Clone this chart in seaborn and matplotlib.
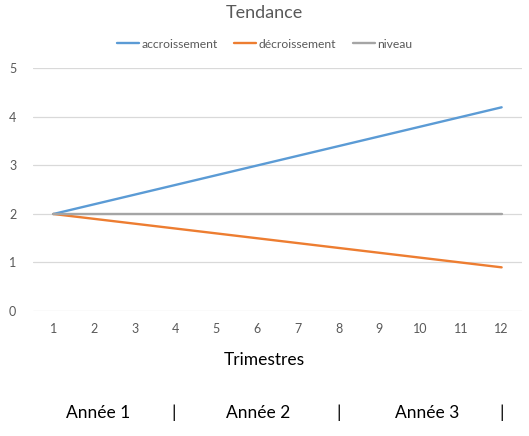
import pandas as pd
import matplotlib.pyplot as plt
import seaborn as sns

# données
trimestres = list(range(1, 13))
accroissement = [2.0, 2.2, 2.4, 2.6, 2.8, 3.0, 3.2, 3.4, 3.6, 3.8, 4.0, 4.2]
decroissement = [2.0, 1.9, 1.8, 1.7, 1.6, 1.5, 1.4, 1.3, 1.2, 1.1, 1.0, 0.9]
niveau = [2.0] * 12
series = ['accroissement', 'décroissement', 'niveau']
annees = ['Année 1', 'Année 2', 'Année 3']

df = pd.DataFrame({
    'Trimestre': trimestres * 3,
    'Valeur': accroissement + decroissement + niveau,
    'Série': [s for s in series for _ in trimestres],
})

sns.set_theme(style="white")
plt.rcParams['font.family'] = ['Lato', 'DejaVu Sans']

gris = '#595959'
couleurs = ['#5B9BD5', '#ED7D31', '#A5A5A5']

fig = plt.figure(figsize=(5.29, 4.36), dpi=100)
ax = fig.add_axes([0.0624, 0.2867, 0.9244, 0.5562])

sns.lineplot(data=df, x='Trimestre', y='Valeur', hue='Série', hue_order=series,
             palette=couleurs, linewidth=1.7, ax=ax, legend=False)

ax.set_xlim(0.5, 12.5)
ax.set_ylim(0, 5)
ax.set_xticks(trimestres)
ax.set_yticks(range(0, 6))
ax.grid(axis='y', color='#D9D9D9', linewidth=0.9)
ax.set_axisbelow(True)
for s in ax.spines.values():
    s.set_visible(False)
ax.tick_params(axis='both', length=0, labelsize=9, labelcolor=gris)
ax.tick_params(axis='y', pad=12)
ax.tick_params(axis='x', pad=9)
ax.set_xlabel('')
ax.set_ylabel('')

# titre et légende
fig.text(0.5, 1 - 13 / 436, 'Tendance', ha='center', va='center', fontsize=13, color=gris)
handles = [plt.Line2D([], [], color=c, linewidth=1.7) for c in couleurs]
leg = fig.legend(handles, series, loc='center', bbox_to_anchor=(0.5, 1 - 44 / 436),
                 ncol=3, frameon=False, fontsize=8.7, handlelength=1.8,
                 handletextpad=0.2, columnspacing=1.4)
for t in leg.get_texts():
    t.set_color(gris)

# titre de l'axe
fig.text(0.5, 1 - 360 / 436, 'Trimestres', ha='center', va='center', fontsize=12.5, color='black')
pos_annees = [98, 258, 427]
pos_barres = [174, 339, 502]
for nom, x in zip(annees, pos_annees):
    fig.text(x / 529, 1 - 413 / 436, nom, ha='center', va='center', fontsize=12.5, color='black')
for x in pos_barres:
    fig.text(x / 529, 1 - 413 / 436, '|', ha='center', va='center', fontsize=12.5, color='black')

plt.savefig('out.png', dpi=100)
plt.close()
